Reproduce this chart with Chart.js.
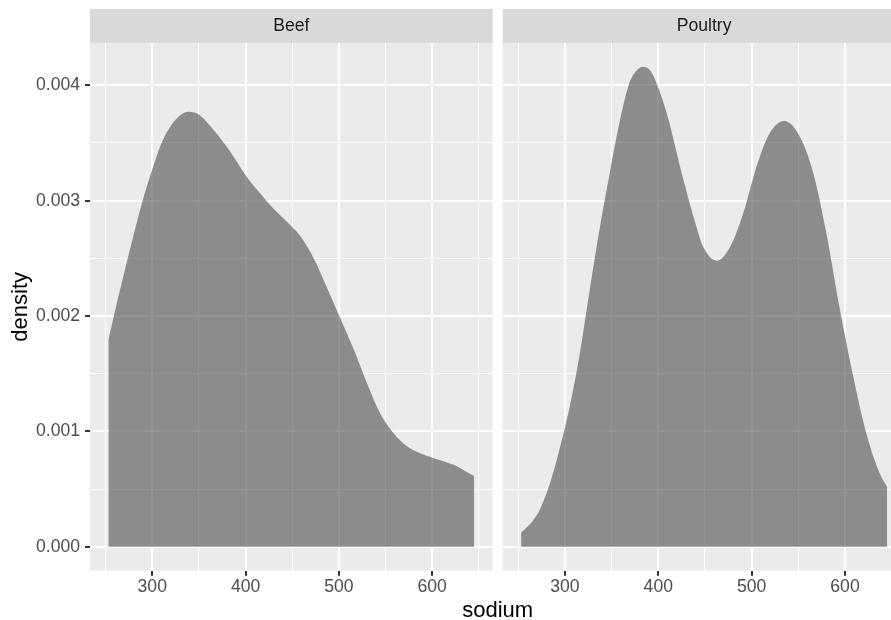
<!DOCTYPE html>
<html>
<head>
<meta charset="utf-8">
<script src="https://cdn.jsdelivr.net/npm/chart.js@4.4.1/dist/chart.umd.min.js"></script>
<style>
  body { margin: 0; background: #fff; }
  #wrap { position: relative; width: 891px; height: 620px; overflow: hidden; }
  #beef { position: absolute; left: 0; top: 0; }
  #poultry { position: absolute; left: 497px; top: 0; }
</style>
</head>
<body>
<div id="wrap">
  <canvas id="beef" width="891" height="620"></canvas>
  <canvas id="poultry" width="394" height="620"></canvas>
</div>
<script>
// density curves, sodium (mg) -> density
var beefSodium   = [253, 262, 271, 280, 289, 300, 310, 321, 330, 339, 351, 366, 384, 401, 416, 430, 444, 459, 473, 487, 501, 516, 530, 544, 559, 573, 587, 601, 623, 645];
var beefDensity  = [0.00179, 0.00211, 0.00241, 0.00270, 0.00298, 0.00327, 0.00350, 0.00366, 0.00374, 0.00377, 0.00374, 0.00361, 0.00342, 0.00321, 0.00306, 0.00293, 0.00282, 0.00269, 0.00250, 0.00225, 0.00199, 0.00171, 0.00142, 0.00116, 0.00098, 0.00087, 0.00081, 0.00077, 0.00071, 0.00061];

var poultrySodium  = [253, 266, 273, 284, 294, 305, 316, 326, 337, 348, 359, 369, 377, 384, 391, 398, 410, 426, 441, 448, 463, 477, 491, 505, 519, 535, 552, 566, 580, 594, 609, 623, 637, 645];
var poultryDensity = [0.00012, 0.00023, 0.00032, 0.00055, 0.00084, 0.00121, 0.00168, 0.00220, 0.00275, 0.00324, 0.00370, 0.00402, 0.00413, 0.00416, 0.00413, 0.00402, 0.00373, 0.00321, 0.00277, 0.00260, 0.00248, 0.00260, 0.00289, 0.00329, 0.00358, 0.00369, 0.00355, 0.00324, 0.00272, 0.00208, 0.00147, 0.00098, 0.00064, 0.00052];

var panelNames = ['Beef', 'Poultry'];
var xLabels = [300, 400, 500, 600];            // labelled x ticks
var xGrid   = [250, 300, 350, 400, 450, 500, 550, 600, 650];
var yLabels = [0, 0.001, 0.002, 0.003, 0.004]; // labelled y ticks
var yGrid   = [0, 0.0005, 0.001, 0.0015, 0.002, 0.0025, 0.003, 0.0035, 0.004];

Chart.defaults.font.family = '"Liberation Sans", Arial, Helvetica, sans-serif';
Chart.defaults.font.size = 17.6;

function points(xs, ys) {
  return xs.map(function(x, i) { return { x: x, y: ys[i] }; });
}

function major(ctx, list) {
  return ctx.tick && list.indexOf(ctx.tick.value) >= 0;
}

// grey panel background + facet strip (+ shared x title)
var panelPlugin = {
  id: 'panel',
  beforeDraw: function(chart, args, opts) {
    var c = chart.ctx, a = chart.chartArea;
    c.save();
    c.fillStyle = '#ebebeb';
    c.fillRect(a.left, a.top, a.right - a.left, a.bottom - a.top);
    c.fillStyle = '#d9d9d9';
    c.fillRect(a.left, 9, opts.stripWidth, a.top - 9);
    c.fillStyle = '#1a1a1a';
    c.font = '17.6px "Liberation Sans", Arial, sans-serif';
    c.textAlign = 'center';
    c.textBaseline = 'middle';
    c.fillText(opts.label, a.left + opts.stripWidth / 2, 26);
    if (opts.xTitle) {
      c.fillStyle = '#000';
      c.font = '22px "Liberation Sans", Arial, sans-serif';
      c.fillText(opts.xTitle, 497.7, 611);
    }
    c.restore();
  }
};

function makeChart(id, name, xs, ys, isLeft) {
  var ctx = document.getElementById(id);
  return new Chart(ctx, {
    type: 'line',
    data: {
      datasets: [{
        label: name,
        data: points(xs, ys),
        backgroundColor: 'rgba(77, 77, 77, 0.6)',
        borderWidth: 0,
        pointRadius: 0,
        fill: 'origin',
        cubicInterpolationMode: 'monotone'
      }]
    },
    options: {
      responsive: false,
      animation: false,
      layout: {
        padding: isLeft ? { top: 43, left: 0, right: 398.3, bottom: 0 }
                        : { top: 43, left: 5.7, right: 0, bottom: 0 }
      },
      plugins: {
        legend: { display: false },
        tooltip: { enabled: false },
        panel: { label: name, stripWidth: 402.7, xTitle: isLeft ? 'sodium' : null }
      },
      scales: {
        x: {
          type: 'linear',
          min: 233.3,
          max: isLeft ? 664.8 : 649.3,
          afterBuildTicks: function(scale) {
            scale.ticks = xGrid.filter(function(v) { return v >= scale.min && v <= scale.max; })
                               .map(function(v) { return { value: v }; });
          },
          afterFit: function(scale) { scale.height = 49.3; },
          border: { display: false },
          grid: {
            color: '#ffffff',
            lineWidth: function(c) { return major(c, xLabels) ? 2 : 1; },
            tickColor: function(c) { return major(c, xLabels) ? '#333333' : 'rgba(0,0,0,0)'; },
            tickWidth: 2,
            tickLength: 5
          },
          ticks: {
            color: '#4d4d4d',
            padding: 1,
            maxRotation: 0,
            autoSkip: false,
            callback: function(v) { return xLabels.indexOf(v) >= 0 ? String(v) : ''; }
          }
        },
        y: {
          min: -0.000208,
          max: 0.0043667,
          afterBuildTicks: function(scale) {
            scale.ticks = yGrid.map(function(v) { return { value: v }; });
          },
          afterFit: function(scale) { scale.width = isLeft ? 90 : 0; },
          border: { display: false },
          grid: {
            color: '#ffffff',
            lineWidth: function(c) { return major(c, yLabels) ? 2 : 1; },
            tickColor: function(c) { return major(c, yLabels) ? '#333333' : 'rgba(0,0,0,0)'; },
            tickWidth: 2,
            tickLength: 5,
            drawTicks: isLeft
          },
          title: {
            display: isLeft,
            text: 'density',
            color: '#000000',
            font: { size: 22 },
            padding: { top: 8, bottom: 0 }
          },
          ticks: {
            display: isLeft,
            color: '#4d4d4d',
            padding: 5,
            autoSkip: false,
            callback: function(v) { return yLabels.indexOf(v) >= 0 ? v.toFixed(3) : ''; }
          }
        }
      }
    },
    plugins: [panelPlugin]
  });
}

makeChart('beef', panelNames[0], beefSodium, beefDensity, true);
makeChart('poultry', panelNames[1], poultrySodium, poultryDensity, false);
</script>
</body>
</html>
